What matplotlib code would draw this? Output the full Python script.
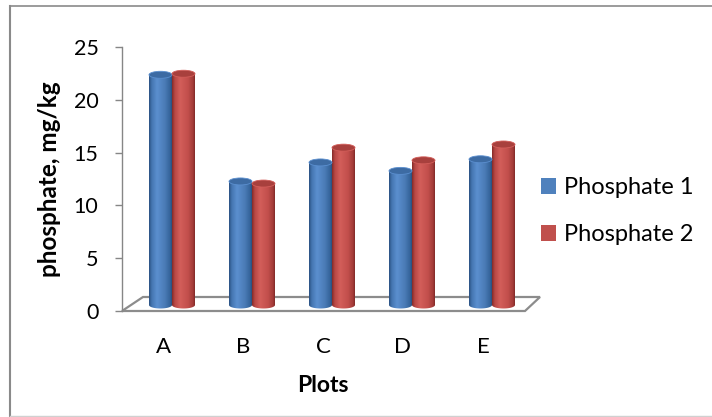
import numpy as np
import matplotlib
matplotlib.use("Agg")
import matplotlib.pyplot as plt
from matplotlib.patches import Polygon, Ellipse, Patch, PathPatch
from matplotlib.path import Path
from matplotlib.lines import Line2D
from matplotlib.colors import LinearSegmentedColormap

plt.rcParams["font.family"] = ["Lato", "DejaVu Sans"]

# ==============================
# DATA
# ==============================
plots = ["A", "B", "C", "D", "E"]
phosphate_1 = [21.8, 11.7, 13.5, 12.7, 13.8]
phosphate_2 = [21.9, 11.5, 14.9, 13.7, 15.2]
series_names = ["Phosphate 1", "Phosphate 2"]
y_ticks = [0, 5, 10, 15, 20, 25]

# ==============================
# STYLE
# ==============================
W, H = 712, 417
PX = 1 / 80          # data x per pixel
PY = 25 / 264        # data y per pixel

blue_shades = [(0.0, "#2b5283"), (0.12, "#4576b2"), (0.35, "#5b8fcf"),
               (0.7, "#4a7bb6"), (0.92, "#36649b"), (1.0, "#2a4f7e")]
red_shades = [(0.0, "#862b29"), (0.12, "#b94845"), (0.35, "#d35e5a"),
              (0.7, "#c24f4c"), (0.92, "#a43c39"), (1.0, "#822a28")]
cap_blue = "#3d6ba3"
cap_red = "#a8403d"
axis_grey = "#868686"


def cylinder(ax, xc, height, shades, cap):
    w = 23 * PX
    eh = 7 * PY
    base = 6 * PY
    top = base + height
    x0, x1 = xc - w / 2, xc + w / 2

    # outline: left side down, bottom half ellipse, right side up
    t = np.linspace(np.pi, 2 * np.pi, 40)
    bx = xc + w / 2 * np.cos(t)
    by = base + eh / 2 * np.sin(t)
    verts = [(x0, top)] + list(zip(bx, by)) + [(x1, top), (x0, top)]
    codes = [Path.MOVETO] + [Path.LINETO] * (len(verts) - 2) + [Path.CLOSEPOLY]
    body = PathPatch(Path(verts, codes), facecolor="none", edgecolor="none")
    ax.add_patch(body)

    cmap = LinearSegmentedColormap.from_list("c", shades)
    grad = cmap(np.linspace(0, 1, 64))[None, :, :3]
    img = ax.imshow(grad, extent=[x0, x1, base - eh, top], aspect="auto",
                    interpolation="bilinear", zorder=3)
    img.set_clip_path(body)

    ax.add_patch(Ellipse((xc, top), w, eh, facecolor=cap,
                         edgecolor=shades[2][1], lw=0.6, zorder=4, clip_on=False))


# ==============================
# FIGURE
# ==============================
fig = plt.figure(figsize=(W / 100, H / 100), dpi=100)
ax = fig.add_axes([122 / W, (H - 311) / H, (545 - 122) / W, 264 / H])

x = np.arange(len(plots))
xlim = (-41 * PX, 382 * PX)

# floor of the 3-D box
depth = 14 * PY
floor = Polygon([(xlim[0], 0), (362 * PX, 0), (377 * PX, depth), (-20 * PX, depth)],
                closed=True, facecolor="white", edgecolor="#8c8c8c", lw=1.6,
                zorder=1, clip_on=False)
ax.add_patch(floor)

for i in range(len(plots)):
    cylinder(ax, x[i] - 2.5 * PX, phosphate_1[i], blue_shades, cap_blue)
    cylinder(ax, x[i] + 20.5 * PX, phosphate_2[i], red_shades, cap_red)

ax.set_xlim(*xlim)
ax.set_ylim(0, 25)

for s in ["top", "right", "bottom"]:
    ax.spines[s].set_visible(False)
ax.spines["left"].set_color(axis_grey)
ax.spines["left"].set_linewidth(1.0)

ax.set_yticks(y_ticks)
ax.tick_params(axis="y", length=5, width=1.0, color=axis_grey, pad=12,
               labelsize=15.5, labelcolor="black")
ax.set_xticks(x)
ax.set_xticklabels(plots)
ax.tick_params(axis="x", length=0, pad=19, labelsize=16)

fig.text(323 / W, 1 - 385 / H, "Plots", ha="center", va="center",
         fontsize=16.5, fontweight="bold")
fig.text(50 / W, 1 - 179 / H, "phosphate, mg/kg", ha="center", va="center",
         rotation=90, fontsize=17.5, fontweight="bold")

handles = [Patch(facecolor="#4f81bd", edgecolor="none"),
           Patch(facecolor="#c0504d", edgecolor="none")]
fig.legend(handles, series_names, loc="upper left",
           bbox_to_anchor=(541 / W, 1 - 177 / H), frameon=False,
           fontsize=17, handlelength=0.64, handleheight=0.64,
           handletextpad=0.35, labelspacing=1.12, borderaxespad=0, borderpad=0)

# chart border
fig.add_artist(Line2D([10 / W, 1], [1 - 6 / H] * 2, color="#8a8a8a", lw=1.2))
fig.add_artist(Line2D([10 / W] * 2, [1 / H, 1 - 6 / H], color="#8a8a8a", lw=1.5))
fig.add_artist(Line2D([10 / W, 1], [1 / H] * 2, color="#d0d0d0", lw=1.0))

fig.savefig("out.png", dpi=100)
